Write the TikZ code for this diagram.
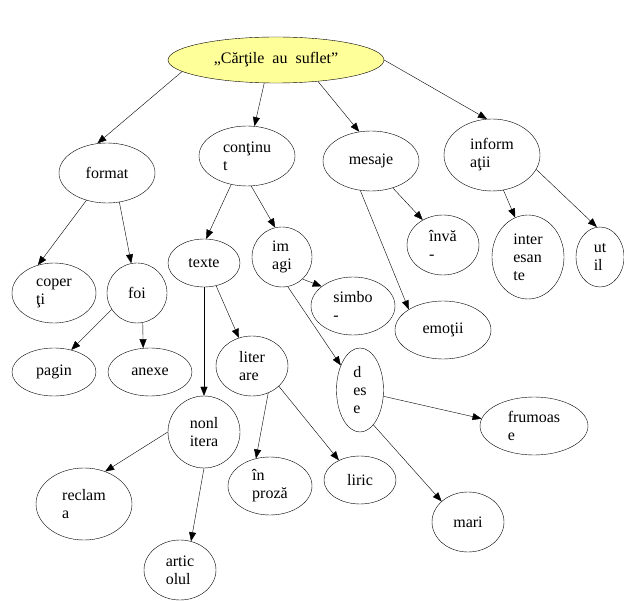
\documentclass[tikz,border=0pt]{standalone}
\usepackage{fontspec}
\setmainfont{Liberation Serif}
\usepackage{tikz}
\usetikzlibrary{positioning,shapes.geometric,arrows.meta}
\definecolor{rootyellow}{RGB}{255,255,153}
\begin{document}
\begin{tikzpicture}[
            x=1pt, y=-1pt,
            bubble/.style={ellipse, draw, thin, inner sep=0pt, align=left, font=\fontsize{16}{18}\selectfont},
            arrow/.style={-{Triangle[length=9pt,width=7pt]}, thin},
        ]
        \useasboundingbox (0,0) rectangle (624,601);
        % Root
        \node[bubble, fill=rootyellow, minimum width=216, minimum height=46] (root) at (276,60) {„Cărţile\ \ au\ \ suflet”};
        % First level
        \node[bubble, minimum width=96, minimum height=60] (format) at (107,173) {format};
        \node[bubble, minimum width=96, minimum height=60] (continut) at (247,156) {conţinu\\t};
        \node[bubble, minimum width=96, minimum height=60] (mesaje) at (371,161) {mesaje};
        \node[bubble, minimum width=96, minimum height=72] (info) at (492,155) {inform\\aţii};
        % Format branch
        \node[bubble, minimum width=84, minimum height=60] (coperti) at (54,293) {coper\\ţi};
        \node[bubble, minimum width=60, minimum height=60] (foi) at (137,293) {foi};
        \node[bubble, minimum width=84, minimum height=48] (pagini) at (54,372) {pagin};
        \node[bubble, minimum width=84, minimum height=48] (anexe) at (150,372) {anexe};
        % Continut branch
        \node[bubble, minimum width=72, minimum height=48] (texte) at (204,263) {texte};
        \node[bubble, minimum width=60, minimum height=60] (imagini) at (282,257) {im\\agi};
        \node[bubble, minimum width=72, minimum height=60] (literare) at (252,366) {liter\\are};
        \node[bubble, minimum width=72, minimum height=72] (nonlit) at (204,432) {nonl\\itera};
        \node[bubble, minimum width=84, minimum height=58] (proza) at (270,486) {în\\proză};
        \node[bubble, minimum width=72, minimum height=48] (liric) at (360,480) {liric};
        \node[bubble, minimum width=96, minimum height=72] (reclama) at (84,504) {reclam\\a};
        \node[bubble, minimum width=72, minimum height=60] (articol) at (180,570) {artic\\olul};
        \node[bubble, minimum width=84, minimum height=58] (simbol) at (353,306) {simbo\\-};
        \node[bubble, minimum width=47, minimum height=84] (dese) at (360,390) {d\\es\\e};
        \node[bubble, minimum width=108, minimum height=58] (frumoase) at (534,426) {frumoas\\e};
        \node[bubble, minimum width=72, minimum height=60] (mari) at (468,522) {mari};
        % Mesaje branch
        \node[bubble, minimum width=72, minimum height=60] (invata) at (443,245) {învă\\-};
        \node[bubble, minimum width=96, minimum height=58] (emotii) at (443,330) {emoţii};
        % Informatii branch
        \node[bubble, minimum width=72, minimum height=84] (interesante) at (528,257) {inter\\esan\\te};
        \node[bubble, minimum width=48, minimum height=60] (util) at (600,257) {ut\\il};
        % Arrows
        \draw[arrow] (root.187) -- (format.108);
        \draw[arrow] (root.243) -- (continut.76);
        \draw[arrow] (root.333) -- (mesaje.112);
        \draw[arrow] (root.0) -- (info.98);
        \draw[arrow] (format.233) -- (coperti.120);
        \draw[arrow] (format.293) -- (foi.101);
        \draw[arrow] (foi.213) -- (pagini.52);
        \draw[arrow] (foi.281) -- (anexe.106);
        \draw[arrow] (continut.241) -- (texte.85);
        \draw[arrow] (continut.278) -- (imagini.103);
        \draw[arrow] (texte.270) -- (nonlit.90);
        \draw[arrow] (texte.298) -- (literare.115);
        \draw[arrow] (literare.301) -- (proza.117);
        \draw[arrow] (literare.323) -- (liric.137);
        \draw[arrow] (nonlit.180) -- (reclama.57);
        \draw[arrow] (nonlit.270) -- (articol.69);
        \draw[arrow] (imagini.313) -- (simbol.148);
        \draw[arrow] (imagini.281) -- (dese.128);
        \draw[arrow] (dese.345) -- (frumoase.172);
        \draw[arrow] (dese.291) -- (mari.142);
        \draw[arrow] (mesaje.309) -- (invata.129);
        \draw[arrow] (mesaje.250) -- (emotii.149);
        \draw[arrow] (info.288) -- (interesante.108);
        \draw[arrow] (info.342) -- (util.96);
    \end{tikzpicture}
\end{document}
